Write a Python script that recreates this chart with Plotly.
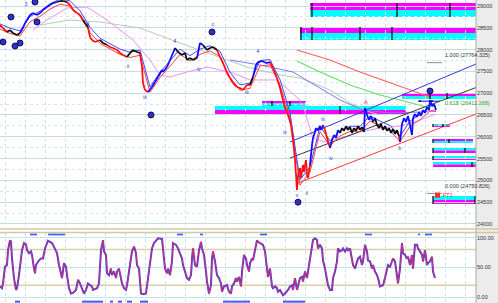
import plotly.graph_objects as go

# ---------------- data ----------------
bar_x_left = [0,3,7,10,13,17,20,23,25,27,30,33,37,40,43,47,50,53,57,60,63,67,70,73,77,80,83,85,88,90,
              92,95,100,103,107,110,113,117,120,123,127,130,133,137,140,142,143,145,148,152,155,158,162,163,167,170,173,175,178,182,
              185,187,190,193,197,200,203,207,210,213,217,220,223,227,230,233,237,240,243,247,250,253,256,258,262,266,270,273,277,280]
price_left = [28564,28495,28404,28449,28381,28335,28381,28495,28610,28679,28794,28839,28794,28839,28908,28977,29023,29069,29092,29115,
              29115,29092,29023,28908,28839,28794,28679,28610,28518,28289,28220,28174,28220,28151,28105,28059,28037,27991,27922,27876,
              27830,27922,27991,27945,27922,27601,27234,27073,27027,27142,27257,27371,27532,27486,27601,27761,27922,28037,27945,27876,
              27922,27761,27807,27761,27807,28151,28105,27991,28037,28059,27991,27830,27692,27463,27348,27234,27142,27119,27073,27188,
              27188,27371,27647,27715,27738,27692,27715,27578,27348,27119]
color_left = list("rrrkkkkbbb" "bbbbbbbbbk" "kkrrrrrkkr" "rrrkkrrrrr" "rkkkkrrrrb" "bbbbbbbbkk" "kkkkkbbkkk"
                  "krrrrrrrrr" "rkbbbbbrrr")
bar_x_right = [283,285,287,289,291,293,295,297,298,300,301,303,304,306,307,308,310,311,312,313,315,316,318,320,321,323,
               325,327,329,330,332,334,336,338,340,342,344,346,348,350,352,354,356,358,360,362,364,365,367,369,371,373,375,
               377,379,381,383,385,387,389,391,393,395,397,399,400,402,404,406,408,410,412,413,415,417,419,421,423,425,427,
               429,430,432,434,436]
price_right = [26844,26660,26568,26431,26270,25926,25467,24779,25123,25284,25054,25353,25192,25467,25123,25054,25353,25582,
               25811,25972,26110,26201,26155,26247,26155,26270,26155,25972,25811,25743,25926,26041,25972,26155,26087,26201,
               26132,26247,26155,26224,26087,26201,26132,26247,26155,26224,26110,26660,26500,26385,26477,26339,26431,26270,
               26201,26293,26155,26247,26132,26201,26087,26178,26064,26155,26018,25880,26293,26431,26339,26477,26270,26041,
               26431,26522,26454,26568,26477,26614,26545,26683,26614,26844,26706,26752,26614]
color_right = list("rrrrrrrr" "rrrrrrrrr" "bbbbbbbbb" "rrrr" "bbbbb" "kkkkkkkkkkkk" "bbbbbb" "kkkkkkkkkkkk" "r"
                   "bbbbbbbbbbbbbbbbbbb")
bar_x = bar_x_left + bar_x_right
price = price_left + price_right
bar_color = color_left + color_right

ma_x = [0,10,20,30,40,50,60,70,80,90,100,110,120,130,140,150,160,170,180,190,200,210,220,230,240,250,
        260,270,280,290,300,310,320,330,340,350,360,370,380,390,400,410,420,430,436]
ma_red_fast = [28470,28370,28310,28640,28760,28930,29040,29000,28770,28390,28140,28020,27890,27820,27870,27020,27360,27620,
               27890,27740,27890,27970,27840,27360,27070,27110,27630,27650,27190,26440,24890,25190,26120,25790,26020,26120,
               26120,26360,26240,26140,25890,26240,26390,26590,26580]
ma_blue_fast = [28590,28490,28430,28760,28880,29050,29160,29120,28890,28510,28260,28140,28010,27940,27990,27140,27480,27740,
                28010,27860,28010,28090,27960,27480,27190,27230,27750,27770,27310,26560,25010,25310,26240,25910,26140,26240,
                26240,26480,26360,26260,26010,26360,26510,26710,26700]

pink_x = [33,47,67,87,107,133,150,160,170,187,207,233,250,277,300,305,313,325,340,360,380,400,420,436]
pink_ma = [28449,28679,28954,28977,28679,28220,27761,27417,27371,27486,27601,27463,27303,27303,26844,26568,25972,25880,25972,
           26110,26201,26247,26385,26522]
grey_x = [40,70,100,140,180,200,247,280,300,330,350,370,380]
grey_ma = [28564,28679,28633,28495,28151,27991,27601,27417,27348,27073,26775,26568,26500]
violet_x = [230,260,293,320,340,363,390,420,436]
violet_ma = [27761,27647,27486,27119,26844,26614,26545,26568,26614]
green_x = [297,320,350,380,400,430]
green_ma = [27738,27486,27188,26958,26844,26660]
red_x = [297,330,360,390,410,430]
red_ma = [27991,27761,27486,27234,27073,26912]

# channel lines
chan_blue_x, chan_blue = [290, 476], [25880, 27669]
chan_black_x, chan_black = [290, 476], [25513, 27130]
chan_red_x, chan_red = [298, 476], [24940, 26522]

zone_x0 = [310, 300, 262, 215, 402, 433, 433, 433, 433, 433, 433, 418]
zone_x1 = [476, 476, 306, 406, 476, 450, 473, 476, 476, 476, 476, 440]
zone_top = [29069, 28518, 26821, 26706, 27004, 26293, 25949, 25743, 25559, 25421, 24641, 26844]
zone_mid = [28908, 28381, 26763, 26614, 26935, 26258, 25903, 25685, 25513, 25364, 24550, 26821]
zone_bot = [28748, 28220, 26706, 26522, 26867, 26224, 25857, 25628, 25467, 25307, 24458, 26798]
zone_upper = ['m', 'm', 'm', 'c', 'm', 'c', 'm', 'c', 'c', 'c', 'c', 'c']
mark_x = [312, 397, 450, 301, 312, 360, 392, 272, 290, 340, 430, 447, 433, 443, 433, 449, 433, 465, 433, 472, 433, 475, 420, 432]
mark_zone = [0, 0, 0, 1, 1, 1, 1, 2, 2, 3, 4, 4, 5, 5, 6, 6, 7, 7, 8, 9, 10, 10, 11, 11]

circle_x = [3, 11, 15, 20, 35, 37, 151, 212, 298, 430]
circle_y = [28174, 28748, 28082, 28151, 29092, 28633, 26500, 28404, 24500, 27050]

wave_x = [26, 88, 128, 145, 175, 199, 213, 247, 258, 285, 323, 331, 297, 307, 400]
wave_y = [29023, 28564, 27601, 26890, 28174, 27532, 28564, 27004, 27945, 26087, 26400, 25500, 24640, 24700, 25720]
wave_txt = ["3", "4", "ii", "iii", "4", "iv", "c", "iii", "4", "iii", "iii", "iv", "v", "ii", "b"]

stoch_x = [0,2,3,5,7,8,10,11,12,14,16,17,19,21,22,24,26,27,29,31,32,34,35,36,38,39,41,43,45,47,
           48,50,52,53,55,57,59,61,62,64,66,67,69,71,73,76,78,80,82,84,86,88,90,92,93,97,99,101,103,104,
           106,107,109,111,112,114,116,117,119,121,122,124,126,127,129,131,132,134,136,137,139,141,143,146,147,149,151,152,154,156,
           158,162,163,165,167,168,170,172,173,176,178,182,183,187,189,191,192,193,195,197,199,201,202,204,206,207,209,211,212,213,
           215,217,219,221,222,224,227,229,231,232,234,236,237,239,241,242,244,246,247,249,
           250,252,253,255,257,258,260,262,263,265,267,268,270,272,273,275,277,278,280,282,
           283,285,287,288,290,292,293,295,297,298,300,302,303,305,307,308,310,312,313,315,
           317,318,320,322,323,325,327,328,330,332,333,335,337,338,340,342,343,345,347,348,
           350,352,353,355,357,358,360,362,363,365,367,368,370,372,373,375,377,378,380,382,
           383,385,387,388,390,392,393,395,397,398,400,402,403,405,407,408,410,412,413,415,
           417,418,420,422,423,425,427,428,430,432,433,435]
stoch_v = [18,15,23,51,54,79,96,93,65,32,12,15,37,62,79,91,89,79,74,77,71,48,40,54,60,62,65,65,82,91,
           95,93,91,88,82,74,54,37,32,57,51,37,15,6,7,12,29,23,15,6,12,23,20,18,12,15,23,79,96,77,
           71,40,37,48,37,43,32,43,48,32,23,15,12,20,43,68,77,85,74,54,48,6,5,6,20,43,71,82,91,96,
           99,98,77,48,40,48,37,60,91,88,82,65,54,32,29,37,65,82,54,51,79,93,82,71,43,26,6,20,65,77,
           60,37,32,23,9,18,20,9,6,18,23,32,26,34,18,43,71,65,54,43,
           57,65,62,82,96,93,91,88,88,77,51,34,48,18,15,18,15,9,12,6,
           3,6,9,12,18,20,12,32,12,20,32,34,26,43,32,43,65,82,96,99,
           96,82,88,82,62,48,32,20,12,12,32,43,60,82,77,79,82,77,82,79,
           82,65,54,48,60,65,68,54,60,88,77,62,60,48,54,43,37,32,18,20,
           20,32,48,54,51,60,65,60,37,23,48,91,74,71,65,68,54,71,48,88,
           88,82,77,71,60,79,54,57,60,68,43,32]
stoch_top_x0 = [30, 48, 177, 200, 260, 365, 418, 425]
stoch_top_x1 = [37, 65, 183, 203, 267, 372, 420, 432]
stoch_bot_x0 = [15, 82, 110, 118, 127, 140, 223, 283]
stoch_bot_x1 = [20, 103, 113, 122, 132, 148, 250, 305]

# ---------------- figure ----------------
XD = 476 / 498
fig = go.Figure()

for xs, ys, col, w in [(grey_x, grey_ma, "#b5cdb0", 1), (pink_x, pink_ma, "#f090f0", 1),
                       (violet_x, violet_ma, "#7a7aff", 1), (green_x, green_ma, "#60e060", 1.2),
                       (red_x, red_ma, "#ff6060", 1.2)]:
    fig.add_trace(go.Scatter(x=xs, y=ys, mode="lines", line=dict(color=col, width=w), hoverinfo="skip"))

for xs, ys, col in [(chan_blue_x, chan_blue, "#3434e0"), (chan_black_x, chan_black, "#383838"),
                    (chan_red_x, chan_red, "#ff3838")]:
    fig.add_trace(go.Scatter(x=xs, y=ys, mode="lines", line=dict(color=col, width=1), hoverinfo="skip"))

fig.add_trace(go.Scatter(x=ma_x, y=ma_red_fast, mode="lines", line=dict(color="#ff4040", width=1), hoverinfo="skip"))
fig.add_trace(go.Scatter(x=ma_x, y=ma_blue_fast, mode="lines", line=dict(color="#4848ff", width=1), hoverinfo="skip"))

cmap = {"r": "#ff1010", "b": "#1010ff", "k": "#101010"}
for code, col in cmap.items():
    xs, ys = [], []
    for i in range(1, len(bar_x)):
        if bar_color[i] == code:
            xs += [bar_x[i - 1], bar_x[i], None]
            ys += [price[i - 1], price[i], None]
    fig.add_trace(go.Scatter(x=xs, y=ys, mode="lines", line=dict(color=col, width=1.8), hoverinfo="skip"))

fig.add_trace(go.Scatter(x=wave_x, y=wave_y, mode="text", text=wave_txt,
                         textfont=dict(size=5, color="#3030c0", family="Liberation Sans"), hoverinfo="skip"))
fig.add_trace(go.Scatter(x=circle_x, y=circle_y, mode="markers",
                         marker=dict(size=6, color="#3030c8", line=dict(color="#101060", width=1)), hoverinfo="skip"))

fig.add_trace(go.Scatter(x=stoch_x, y=stoch_v, mode="lines", xaxis="x2", yaxis="y2",
                         line=dict(color="#3a3aff", width=2), hoverinfo="skip"))
fig.add_trace(go.Scatter(x=stoch_x, y=stoch_v, mode="lines", xaxis="x2", yaxis="y2",
                         line=dict(color="#ff3030", width=0.8), hoverinfo="skip"))

shapes = []
colz = {"m": "#ff00ff", "c": "#00ffff"}
for i in range(len(zone_x0)):
    up = zone_upper[i]
    lo = "c" if up == "m" else "m"
    shapes.append(dict(type="rect", xref="x", yref="y", x0=zone_x0[i], x1=zone_x1[i], y0=zone_mid[i], y1=zone_top[i],
                       fillcolor=colz[up], line=dict(width=0), layer="below"))
    shapes.append(dict(type="rect", xref="x", yref="y", x0=zone_x0[i], x1=zone_x1[i], y0=zone_bot[i], y1=zone_mid[i],
                       fillcolor=colz[lo], line=dict(width=0), layer="below"))
for mx, mz in zip(mark_x, mark_zone):
    shapes.append(dict(type="line", xref="x", yref="y", x0=mx, x1=mx, y0=zone_bot[mz], y1=zone_top[mz],
                       line=dict(color="#000000", width=1.2)))
for a, b in zip(stoch_top_x0, stoch_top_x1):
    shapes.append(dict(type="rect", xref="x2", yref="y2", x0=a, x1=b, y0=104, y1=107,
                       fillcolor="#4060ff", line=dict(width=0)))
for a, b in zip(stoch_bot_x0, stoch_bot_x1):
    shapes.append(dict(type="rect", xref="x2", yref="y2", x0=a, x1=b, y0=-9.5, y1=-6,
                       fillcolor="#4060ff", line=dict(width=0)))
for lv in [20, 80]:
    shapes.append(dict(type="line", xref="x2", yref="y2", x0=0, x1=476, y0=lv, y1=lv,
                       line=dict(color="#d8d0a8", width=1.5), layer="below"))
shapes.append(dict(type="rect", xref="paper", yref="paper", x0=XD, x1=1, y0=0, y1=1,
                   fillcolor="#ececec", line=dict(width=0), layer="below"))
shapes.append(dict(type="line", xref="paper", yref="paper", x0=XD, x1=XD, y0=0, y1=1,
                   line=dict(color="#a8a8a0", width=1)))
for yp in [1 - 229 / 303, 1 - 232.5 / 303]:
    shapes.append(dict(type="line", xref="paper", yref="paper", x0=0, x1=1, y0=yp, y1=yp,
                       line=dict(color="#d0c8a0", width=1.5)))

ann = []
af = dict(family="Liberation Sans", size=5.5)
ann.append(dict(x=443, y=27764, xref="x", yref="y", text="1.000 (27764.325)", showarrow=False,
                xanchor="left", yanchor="bottom", font=dict(color="#333333", **af)))
ann.append(dict(x=443, y=26780, xref="x", yref="y", text="0.618 (26411.168)", showarrow=False,
                xanchor="left", yanchor="middle", font=dict(color="#30a030", **af)))
ann.append(dict(x=443, y=24750, xref="x", yref="y", text="0.000 (24750.826)", showarrow=False,
                xanchor="left", yanchor="bottom", font=dict(color="#333333", **af)))
ann.append(dict(x=441, y=24660, xref="x", yref="y", text="FT1", showarrow=False,
                xanchor="left", yanchor="middle", font=dict(color="#ff2020", **af)))
ann.append(dict(x=366, y=26800, xref="x", yref="y", text="A", showarrow=False,
                font=dict(color="#ff2020", **af)))
for xs0, xs1, yv in [(427, 442, 27700), (427, 442, 24700)]:
    shapes.append(dict(type="line", xref="x", yref="y", x0=xs0, x1=xs1, y0=yv, y1=yv,
                       line=dict(color="#909090", width=1)))
shapes.append(dict(type="rect", xref="x", yref="y", x0=435, x1=440, y0=24600, y1=24720,
                   fillcolor="#ff3030", line=dict(width=0)))

grid = "#cfe2ea"
fig.update_layout(
    width=498, height=303, margin=dict(l=0, r=0, t=0, b=0),
    paper_bgcolor="white", plot_bgcolor="white", showlegend=False,
    shapes=shapes, annotations=ann,
    xaxis=dict(domain=[0, XD], range=[0, 476], showticklabels=False, showgrid=True, gridcolor=grid,
               griddash="dot", dtick=20, tick0=5, zeroline=False, anchor="y", ticks=""),
    yaxis=dict(domain=[1 - 229 / 303, 1], range=[23884, 29138], side="right", dtick=500, tickformat="d",
               tickfont=dict(size=5.5, color="#333333", family="Liberation Sans"), gridcolor="#c4dce6",
               minor=dict(dtick=250, showgrid=True, griddash="dot", gridcolor="#d6e6ec"),
               zeroline=False, ticks="", anchor="x"),
    xaxis2=dict(domain=[0, XD], range=[0, 476], matches="x", showticklabels=False, showgrid=True,
                gridcolor=grid, griddash="dot", dtick=20, tick0=5, zeroline=False, anchor="y2", ticks=""),
    yaxis2=dict(domain=[0, 70 / 303], range=[-10, 108], side="right", tickvals=[0, 50, 100],
                ticktext=["0.00", "50.00", "100.00"], tickfont=dict(size=5.5, color="#333333", family="Liberation Sans"),
                gridcolor="#c4e4f0", zeroline=False, ticks="", anchor="x2"),
)

fig.write_html("out.html")
